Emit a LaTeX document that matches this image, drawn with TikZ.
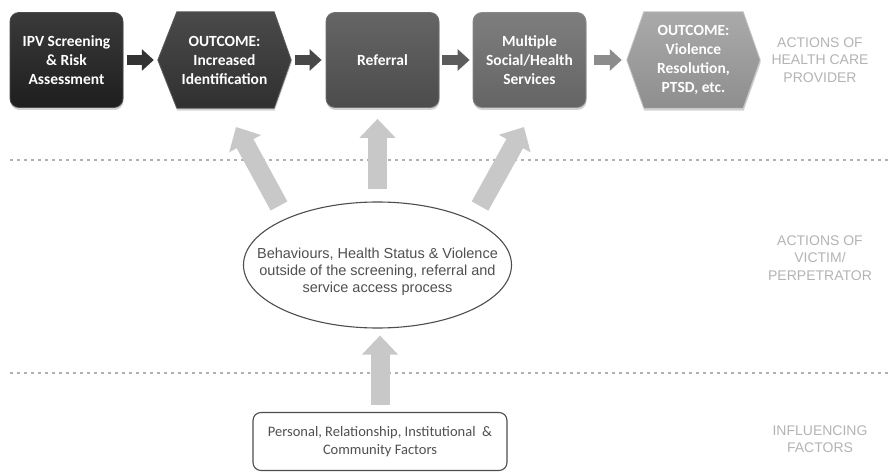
\documentclass[tikz,border=0pt]{standalone}
\usepackage{fontspec}
\setmainfont{Carlito}
\newfontfamily\arialfont{Liberation Sans}
\usetikzlibrary{arrows.meta,shadows,backgrounds,calc,shapes.geometric}

% greys of the process chain, darkest first
\definecolor{s1top}{HTML}{3A3A3A}\definecolor{s1bot}{HTML}{1E1E1E}\definecolor{s1line}{HTML}{4C4C4C}
\definecolor{s2top}{HTML}{4A4A4A}\definecolor{s2bot}{HTML}{303030}\definecolor{s2line}{HTML}{5A5A5A}
\definecolor{s3top}{HTML}{656565}\definecolor{s3bot}{HTML}{4C4C4C}\definecolor{s3line}{HTML}{707070}
\definecolor{s4top}{HTML}{7E7E7E}\definecolor{s4bot}{HTML}{646464}\definecolor{s4line}{HTML}{8A8A8A}
\definecolor{s5top}{HTML}{AAAAAA}\definecolor{s5bot}{HTML}{8E8E8E}\definecolor{s5line}{HTML}{C4C4C4}
\definecolor{a1}{HTML}{333333}\definecolor{a2}{HTML}{474747}\definecolor{a3}{HTML}{5C5C5C}\definecolor{a4}{HTML}{8C8C8C}
\definecolor{bigarrow}{HTML}{C8C8C8}
\definecolor{sidegrey}{HTML}{B4B4B4}
\definecolor{dotgrey}{HTML}{B0B0B0}
\definecolor{bodytext}{HTML}{505050}
\definecolor{outline}{HTML}{4E4E4E}

\begin{document}
\begin{tikzpicture}[x=1pt,y=-1pt,
  stage/.style={rounded corners=9pt, minimum width=113pt, minimum height=95pt,
    inner sep=2pt, align=center, text=white, line width=0.8pt,
    font=\bfseries\fontsize{15.5}{19}\selectfont,
    drop shadow={shadow xshift=0.5pt, shadow yshift=-2.5pt, opacity=0.35}},
  hexlabel/.style={minimum width=133pt, minimum height=96pt, inner sep=2pt,
    align=center, text=white, font=\bfseries\fontsize{15.5}{19}\selectfont},
  hexbody/.style={line width=0.8pt, line join=round,
    drop shadow={shadow xshift=0.5pt, shadow yshift=-2.5pt, opacity=0.35}},
  flow/.style={line width=10pt, -{Triangle[width=21pt,length=12pt]}},
  bigflow/.style={draw=bigarrow, line width=19pt, -{Triangle[width=35pt,length=19pt]}},
  separator/.style={draw=dotgrey, line width=2.6pt, dash pattern=on 2.6pt off 4.4pt},
  side/.style={align=center, text=sidegrey, font=\arialfont\fontsize{14}{17.5}\selectfont},
]
\begin{scope}[on background layer]
  \fill[white] (0,0) rectangle (889,473);
\end{scope}
\useasboundingbox (0,0) rectangle (889,473);

% layer separators
\draw[separator] (10,160) -- (889,160);
\draw[separator] (10,373) -- (889,373);

% process chain of the health care provider
\node[stage, top color=s1top, bottom color=s1bot, draw=s1line] (scr) at (66.5,60)
  {IPV Screening\\\& Risk\\Assessment};
\node[hexlabel] (idn) at (224.5,60) {OUTCOME:\\Increased\\Identification};
\node[stage, top color=s3top, bottom color=s3bot, draw=s3line] (ref) at (382.5,60) {Referral};
\node[stage, top color=s4top, bottom color=s4bot, draw=s4line] (svc) at (529.5,60)
  {Multiple\\Social/Health\\Services};
\node[hexlabel] (res) at (693.5,60) {OUTCOME:\\Violence\\Resolution,\\PTSD, etc.};

% hexagonal outcome shapes behind their labels
\begin{scope}[on background layer]
  \path[hexbody, top color=s2top, bottom color=s2bot, draw=s2line]
    (idn.west) -- ($(idn.north west)+(19,0)$) -- ($(idn.north east)+(-17,0)$) -- (idn.east)
    -- ($(idn.south east)+(-17,0)$) -- ($(idn.south west)+(19,0)$) -- cycle;
  \path[hexbody, top color=s5top, bottom color=s5bot, draw=s5line]
    (res.west) -- ($(res.north west)+(17,0)$) -- ($(res.north east)+(-17,0)$) -- (res.east)
    -- ($(res.south east)+(-17,0)$) -- ($(res.south west)+(17,0)$) -- cycle;
\end{scope}

% arrows along the chain
\draw[flow, draw=a1, shorten <=4pt, shorten >=4pt] (scr) -- (idn);
\draw[flow, draw=a2, shorten <=4pt, shorten >=4pt] (idn) -- (ref);
\draw[flow, draw=a3, shorten <=3pt, shorten >=3pt] (ref) -- (svc);
\draw[flow, draw=a4, shorten <=8pt, shorten >=5pt] (svc) -- (res);

% victim / perpetrator layer
\node[ellipse, draw=outline, line width=1.1pt, fill=white, minimum width=268pt,
  minimum height=126pt, inner sep=0pt] (ell) at (377.5,265) {};
\node[align=center, text=bodytext, font=\arialfont\fontsize{14.5}{17}\selectfont] (beh)
  at (377.5,272) {Behaviours, Health Status \& Violence\\outside of the screening, referral and\\service access process};

% influencing factors
\node[draw=outline, line width=1.1pt, rounded corners=8pt, fill=white, minimum width=254pt,
  minimum height=58pt, align=center, text=bodytext,
  font=\fontsize{14.5}{18}\selectfont] (fac) at (380,441.5)
  {Personal, Relationship, Institutional\ \ \&\\Community Factors};

% influence arrows
\coordinate (lt) at (279,206);
\coordinate (lh) at (236,127);
\coordinate (rt) at (480,206);
\coordinate (rh) at (524,127);
\draw[bigflow] (lt) -- (lh);
\draw[bigflow, shorten <=12pt, shorten >=11pt] (ell.north) -- (ell.north |- ref.south);
\draw[bigflow] (rt) -- (rh);
\draw[bigflow, shorten <=7pt, shorten >=7pt] (fac.north) -- (fac.north |- ell.south);

% layer captions
\node[side] (lab1) at (820,60) {ACTIONS OF\\HEALTH CARE\\PROVIDER};
\node[side] (lab2) at (820,258) {ACTIONS OF\\VICTIM/\\PERPETRATOR};
\node[side] (lab3) at (820,439) {INFLUENCING\\FACTORS};
\end{tikzpicture}
\end{document}
